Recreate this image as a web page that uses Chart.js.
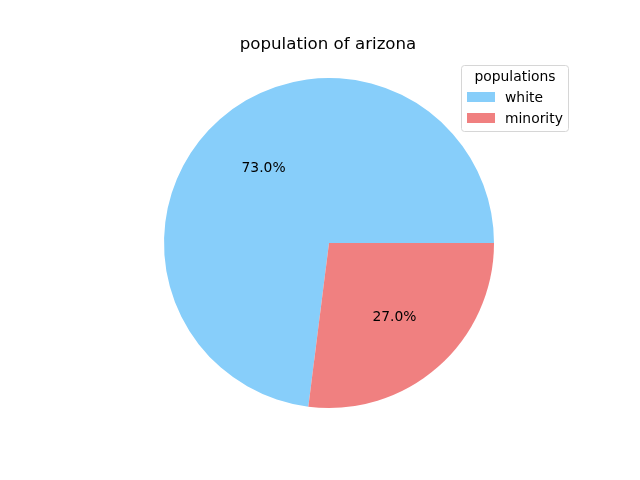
<!DOCTYPE html>
<html>
<head>
<meta charset="utf-8">
<script src="https://cdn.jsdelivr.net/npm/chart.js@4/dist/chart.umd.min.js"></script>
<style>
html,body{margin:0;padding:0;background:#fff;}
#wrap{width:640px;height:480px;}
</style>
</head>
<body>
<div id="wrap"><canvas id="c" width="640" height="480"></canvas></div>
<script>
const categories = ["white", "minority"];
const values = [73, 27];
const colors = ["#87CEFA", "#F08080"];
const chartTitle = "population of arizona";
const legendTitle = "populations";

const total = values.reduce((a, b) => a + b, 0);
// matplotlib starts at 3 o'clock counter-clockwise; Chart.js draws clockwise
const startRotation = 90 + 360 * (total - values[0]) / total;

const overlay = {
  id: 'overlay',
  afterDatasetsDraw(chart) {
    const ctx = chart.ctx;
    const meta = chart.getDatasetMeta(0);
    ctx.save();
    // percentage labels
    ctx.fillStyle = '#000';
    ctx.font = '13.89px "DejaVu Sans"';
    ctx.textAlign = 'center';
    ctx.textBaseline = 'middle';
    meta.data.forEach((arc, i) => {
      const p = arc.getProps(['x', 'y', 'startAngle', 'endAngle', 'outerRadius'], true);
      const mid = (p.startAngle + p.endAngle) / 2;
      const r = p.outerRadius * 0.6;
      const pct = (100 * values[i] / total).toFixed(1) + '%';
      ctx.fillText(pct, p.x + r * Math.cos(mid), p.y + r * Math.sin(mid));
    });
    // title
    ctx.font = '16.67px "DejaVu Sans"';
    ctx.textBaseline = 'alphabetic';
    ctx.fillText(chartTitle, 328, 49);
    // legend
    const lx = 461.5, ly = 65.5, lw = 107, lh = 66;
    ctx.beginPath();
    if (ctx.roundRect) ctx.roundRect(lx, ly, lw, lh, 3); else ctx.rect(lx, ly, lw, lh);
    ctx.fillStyle = 'rgba(255,255,255,0.8)';
    ctx.fill();
    ctx.strokeStyle = '#d6d6d6';
    ctx.lineWidth = 1;
    ctx.stroke();
    ctx.fillStyle = '#000';
    ctx.font = '13.89px "DejaVu Sans"';
    ctx.textAlign = 'center';
    ctx.textBaseline = 'middle';
    ctx.fillText(legendTitle, 515, 77);
    ctx.textAlign = 'left';
    categories.forEach((c, i) => {
      const y = 92 + i * 21;
      ctx.fillStyle = colors[i];
      ctx.fillRect(467, y, 28, 10);
      ctx.fillStyle = '#000';
      ctx.fillText(c, 505, y + 6);
    });
    ctx.restore();
  }
};

new Chart(document.getElementById('c'), {
  type: 'pie',
  data: {
    labels: categories,
    datasets: [{
      data: values,
      backgroundColor: colors,
      borderWidth: 0,
      hoverOffset: 0
    }]
  },
  options: {
    responsive: false,
    animation: false,
    rotation: startRotation,
    layout: { padding: { top: 78, bottom: 72, left: 164, right: 146 } },
    plugins: {
      legend: { display: false },
      title: { display: false },
      tooltip: { enabled: false }
    }
  },
  plugins: [overlay]
});
</script>
</body>
</html>
